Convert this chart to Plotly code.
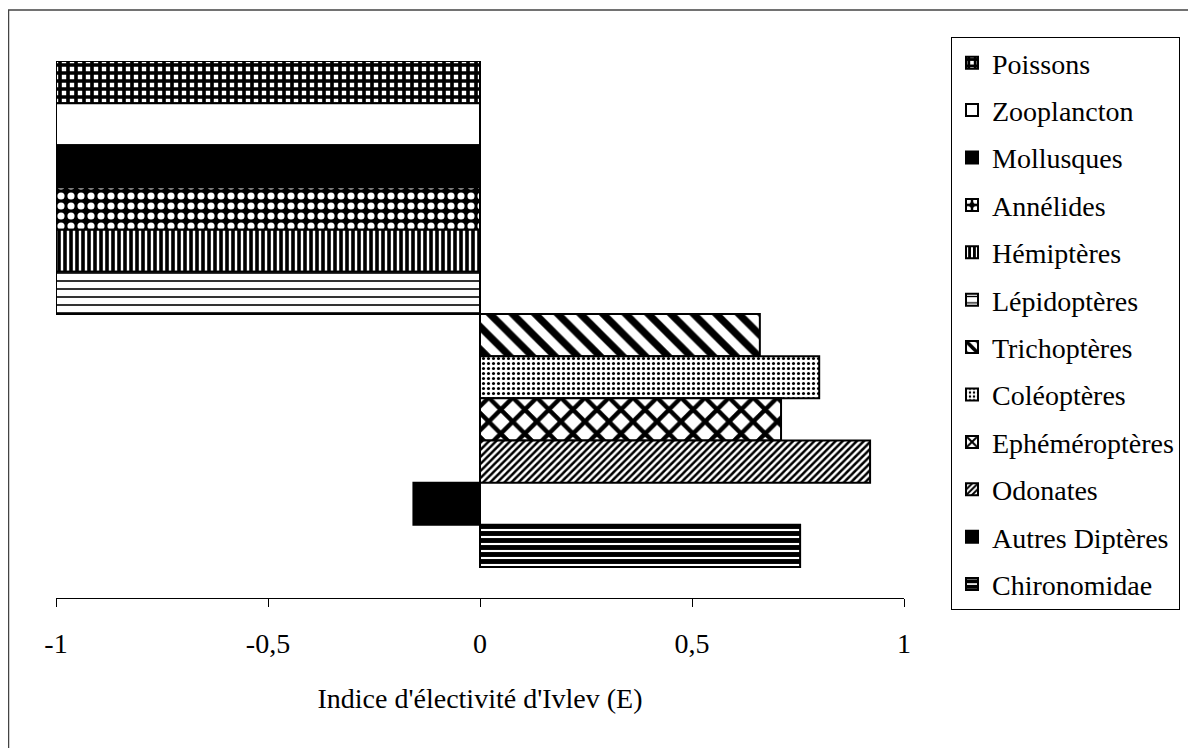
import plotly.graph_objects as go

# Legend order (top to bottom) = bar order (top to bottom)
categories = ["Poissons", "Zooplancton", "Mollusques", "Annélides", "Hémiptères",
              "Lépidoptères", "Trichoptères", "Coléoptères", "Ephéméroptères",
              "Odonates", "Autres Diptères", "Chironomidae"]
ivlev_values = [-1.0, -1.0, -1.0, -1.0, -1.0, -1.0, 0.66, 0.80, 0.71, 0.92, -0.157, 0.755]
tick_values = [-1, -0.5, 0, 0.5, 1]
tick_labels = ["-1", "-0,5", "0", "0,5", "1"]
axis_title = "Indice d'électivité d'Ivlev (E)"

# pattern styles per category: (shape, fg, bg, size, solidity)
styles = {
    "Poissons":        ("+", "black", "white", 8, 0.7),
    "Zooplancton":     ("", "white", "white", 8, 0.3),
    "Mollusques":      ("", "black", "black", 8, 0.3),
    "Annélides":       (".", "white", "black", 10, 0.4),
    "Hémiptères":      ("|", "black", "white", 6, 0.6),
    "Lépidoptères":    ("-", "black", "white", 8, 0.2),
    "Trichoptères":    ("\\", "black", "white", 16, 0.45),
    "Coléoptères":     (".", "black", "white", 5, 0.3),
    "Ephéméroptères":  ("x", "black", "white", 17, 0.45),
    "Odonates":        ("/", "black", "white", 5, 0.5),
    "Autres Diptères": ("", "black", "black", 8, 0.3),
    "Chironomidae":    ("-", "black", "white", 7, 0.7),
}

FONT = "Liberation Serif, Times New Roman, serif"

fig = go.Figure()
for cat, val in zip(categories, ivlev_values):
    shape, fg, bg, size, sol = styles[cat]
    color = bg if shape else fg
    fig.add_trace(go.Bar(
        y=[cat], x=[val], orientation="h", name=cat, legendgroup=cat,
        width=1.0,
        marker=dict(color=color,
                    line=dict(color="black", width=2),
                    pattern=dict(shape=shape, fgcolor=fg, bgcolor=bg,
                                 size=size, solidity=sol, fillmode="replace")),
        hoverinfo="x+name",
    ))

# page has an 8px body margin: figure coords = page coords - 8
OFF = 8
W, H = 1196 - OFF, 748 - OFF
L, R, T, B = 56 - OFF, 904 - OFF, 61 - OFF, 598 - OFF
pw, ph = R - L, B - T

def px_x(x):
    return (x - OFF - L) / pw

def px_y(y):
    return (B - (y - OFF)) / ph

fig.update_layout(
    width=W, height=H,
    margin=dict(l=L, r=W - R, t=T, b=H - B, pad=0),
    paper_bgcolor="white", plot_bgcolor="white",
    barmode="relative",
    font=dict(family=FONT, size=28, color="black"),
    showlegend=True,
    legend=dict(
        x=px_x(951), y=px_y(37), xanchor="left", yanchor="top",
        bordercolor="black", borderwidth=1, bgcolor="white",
        font=dict(family=FONT, size=28, color="black"),
        traceorder="grouped", tracegroupgap=8,
        itemwidth=30, maxheight=700,
    ),
    xaxis=dict(
        range=[-1, 1], tickvals=tick_values, ticktext=tick_labels,
        showgrid=False, zeroline=False, showline=True, linecolor="black", linewidth=1,
        ticks="outside", ticklen=8, tickcolor="black", tickwidth=1,
        tickfont=dict(family=FONT, size=28),
        ticklabelstandoff=12,
        title=dict(text=axis_title, font=dict(family=FONT, size=28), standoff=30),
        fixedrange=True,
    ),
    yaxis=dict(
        type="category", categoryorder="array", categoryarray=categories[::-1],
        range=[-0.5 - 31 / 42.2, 11.5],
        showticklabels=False, showgrid=False, zeroline=False, showline=False,
        ticks="", fixedrange=True,
    ),
    shapes=[dict(type="rect", xref="paper", yref="paper",
                 x0=px_x(8.5), x1=px_x(1400), y0=px_y(10), y1=px_y(1000),
                 line=dict(color="#444444", width=1.5), fillcolor="rgba(0,0,0,0)",
                 layer="below")],
)

fig.write_html("out.html")
